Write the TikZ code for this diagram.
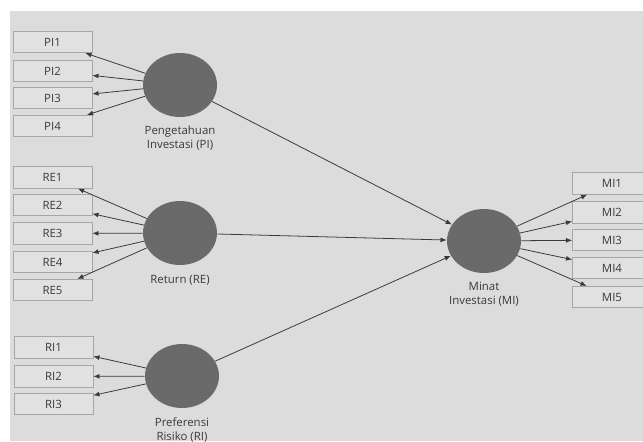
\documentclass[tikz,border=0pt]{standalone}
\usepackage{fontspec}
\setmainfont{Open Sans}
\usetikzlibrary{arrows.meta,shapes.geometric}
\definecolor{bggray}{HTML}{DCDCDC}
\definecolor{boxgray}{HTML}{E1E1E1}
\definecolor{edgegray}{HTML}{A6A6A6}
\definecolor{latgray}{HTML}{6A6A6A}
\definecolor{txtgray}{HTML}{3A3A3A}
\begin{document}
\begin{tikzpicture}[x=0.02cm,y=-0.02cm,
  font=\fontsize{6.5}{8}\selectfont,
  ind/.style={draw=edgegray,fill=boxgray,line width=0.4pt,minimum width=1.58cm,minimum height=0.43cm,inner sep=0pt,text=txtgray},
  lat/.style={ellipse,fill=latgray,minimum width=1.48cm,minimum height=1.28cm,inner sep=0pt},
  lbl/.style={align=center,text=txtgray,inner sep=0pt},
  link/.style={draw=txtgray,line width=0.45pt,-{Latex[length=3.5pt,width=2.8pt]}}]
\clip (0,0) rectangle (643,441);
\fill[white] (0,0) rectangle (643,441);
\fill[bggray] (10,11) rectangle (643,441);

% indicator boxes
\draw 	(52.5,42) node[ind](pi1){PI1}   (52.5,71) node[ind](pi2){PI2}
		(52.5,98) node[ind](pi3){PI3}   (52.5,126) node[ind](pi4){PI4};

\draw 	(52.5,177.5) node[ind](re1){RE1}  (52.5,205) node[ind](re2){RE2}
		(52.5,233.5) node[ind](re3){RE3}  (52.5,262) node[ind](re4){RE4}
		(52.5,290)   node[ind](re5){RE5};

\draw 	(53.5,347.5) node[ind](ri1){RI1}  (53.5,376.5) node[ind](ri2){RI2}
		(53.5,404)   node[ind](ri3){RI3};

\draw 	(612,183.5) node[ind](mi1){MI1}  (612,212.5) node[ind](mi2){MI2}
		(612,240)   node[ind](mi3){MI3}  (612,268)   node[ind](mi4){MI4}
		(612,297)   node[ind](mi5){MI5};

% constructs
\draw 	(180,85) node[lat](pi){}  (180,233) node[lat](re){}
		(182,376) node[lat](ri){}  (484,241) node[lat](mi){};

\draw 	(180,138) node[lbl](pil){Pengetahuan\\Investasi (PI)}
		(180,280) node[lbl](rel){Return (RE)}
		(182,430) node[lbl](ril){Preferensi\\Risiko (RI)}
		(484,294) node[lbl](mil){Minat\\Investasi (MI)};

% outer model
\draw[link] (pi) -- (pi1);  \draw[link] (pi) -- (pi2);
\draw[link] (pi) -- (pi3);  \draw[link] (pi) -- (pi4);
\draw[link] (re) -- (re1);  \draw[link] (re) -- (re2);
\draw[link] (re) -- (re3);  \draw[link] (re) -- (re4);
\draw[link] (re) -- (re5);
\draw[link] (ri) -- (ri1);  \draw[link] (ri) -- (ri2);
\draw[link] (ri) -- (ri3);
\draw[link] (mi) -- (mi1);  \draw[link] (mi) -- (mi2);
\draw[link] (mi) -- (mi3);  \draw[link] (mi) -- (mi4);
\draw[link] (mi) -- (mi5);

% inner model
\draw[link] (pi) -- (mi);
\draw[link] (re) -- (mi);
\draw[link] (ri) -- (mi);
\end{tikzpicture}
\end{document}
